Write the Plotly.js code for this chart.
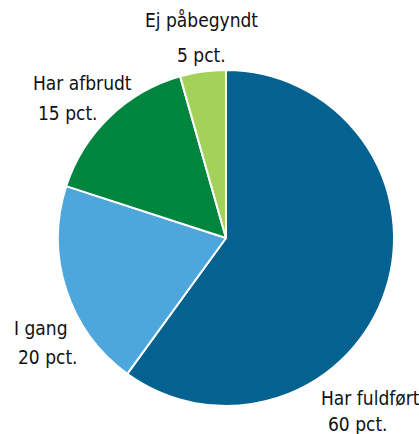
<!DOCTYPE html>
<html><head><meta charset="utf-8">
<script src="https://cdn.plot.ly/plotly-3.0.1.min.js"></script>
<style>body{margin:0;background:#fff}#c{width:419px;height:434px}</style>
</head><body><div id="c"></div>
<script>
const categories = ["Har fuldført", "I gang", "Har afbrudt", "Ej påbegyndt"];
const values = [60, 20, 15.6, 4.4];
const valueLabels = ["60 pct.", "20 pct.", "15 pct.", "5 pct."];
const colors = ["#03628f", "#4da7dc", "#00853f", "#a3d15a"];

const W = 419, H = 434;
const labelPos = [
  {x: 370, y: 398, x2: 358, y2: 424},
  {x: 40, y: 328, x2: 48, y2: 357},
  {x: 82, y: 83, x2: 68, y2: 113},
  {x: 201, y: 20, x2: 201, y2: 55}
];
const font = {family: "DejaVu Sans Condensed, sans-serif", size: 19, color: "#111111"};
const annotations = [];
categories.forEach((c, i) => {
  const p = labelPos[i];
  annotations.push({text: c, x: p.x / W, y: 1 - p.y / H, xref: "paper", yref: "paper", showarrow: false, font: font, xanchor: "center", yanchor: "middle"});
  annotations.push({text: valueLabels[i], x: p.x2 / W, y: 1 - p.y2 / H, xref: "paper", yref: "paper", showarrow: false, font: font, xanchor: "center", yanchor: "middle"});
});

Plotly.newPlot("c", [{
  type: "pie",
  labels: categories,
  values: values,
  sort: false,
  direction: "clockwise",
  rotation: 0,
  textinfo: "none",
  hoverinfo: "none",
  marker: {colors: colors, line: {color: "#ffffff", width: 2}},
  domain: {x: [58 / W, 394 / W], y: [1 - 406 / H, 1 - 70 / H]}
}], {
  width: W, height: H,
  margin: {l: 0, r: 0, t: 0, b: 0},
  showlegend: false,
  paper_bgcolor: "#fff",
  annotations: annotations
}, {staticPlot: true});
</script></body></html>
